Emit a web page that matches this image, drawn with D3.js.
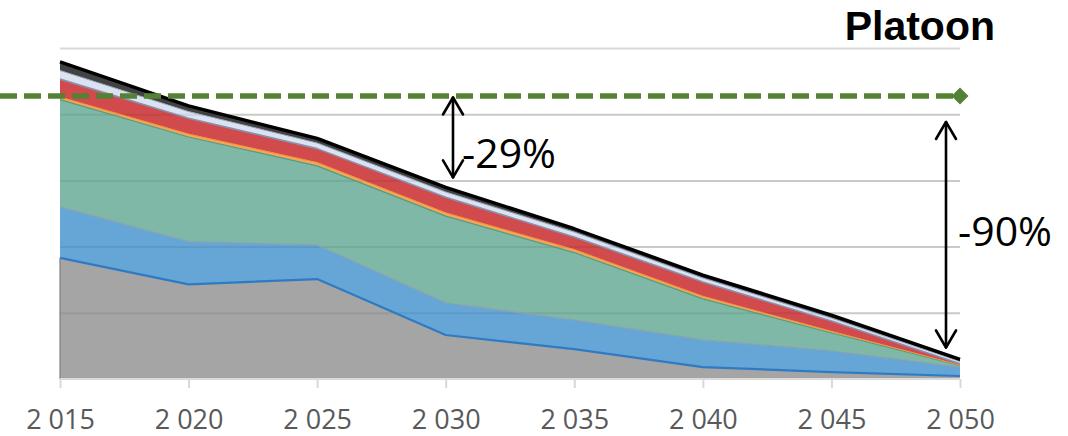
<!DOCTYPE html>
<html>
<head>
<meta charset="utf-8">
<script src="https://cdn.jsdelivr.net/npm/d3@7/dist/d3.min.js"></script>
<style>
html,body{margin:0;padding:0;background:#fff;}
svg{display:block;}
</style>
</head>
<body>
<svg id="chart" width="1068" height="436"></svg>
<script>
// ---- data ----
const years = [2015, 2020, 2025, 2030, 2035, 2040, 2045, 2050];
const xTickLabels = ["2 015", "2 020", "2 025", "2 030", "2 035", "2 040", "2 045", "2 050"];
const seriesGray      = [18.3, 14.3, 15.1, 6.65, 4.5, 1.8, 1.05, 0.45];
const seriesBlue      = [7.7, 6.45, 5.15, 4.85, 4.4, 4.1, 3.2, 1.35];
const seriesGreen     = [16.2, 15.8, 11.95, 13.1, 10.2, 6.2, 2.7, 0.25];
const seriesOrange    = [0.4, 0.45, 0.5, 0.5, 0.45, 0.4, 0.25, 0.05];
const seriesRed       = [2.7, 2.4, 2.1, 2.35, 1.9, 2.15, 1.55, 0.2];
const seriesLightBlue = [1.3, 1.0, 0.85, 0.8, 0.75, 0.6, 0.45, 0.35];
const seriesDark      = [1.3, 0.85, 0.7, 0.7, 0.5, 0.45, 0.45, 0.3];
const yGridTicks = [10, 20, 30, 40, 50];
const referenceLevel = 42.75;
const title = "Platoon";
const labelA = "-29%";
const labelB = "-90%";

// ---- setup ----
const svg = d3.select("#chart");
const x = d3.scaleLinear().domain([2015, 2050]).range([60, 960]);
const y = d3.scaleLinear().domain([0, 50]).range([379, 48]);

const keys = ["gray", "blue", "green", "orange", "red", "lightblue", "dark"];
const sources = [seriesGray, seriesBlue, seriesGreen, seriesOrange, seriesRed, seriesLightBlue, seriesDark];
const fills = ["#a5a5a5", "#66a6d7", "#7fb8a6", "#f8a55a", "#d24b4c", "#dbe3f1", "#424242"];
const topLines = [
  {c: "#2e7bc4", w: 2.2},
  {c: "#85a3b3", w: 1.2},
  {c: "#4f9d7e", w: 1.2},
  {c: "#f0923a", w: 1},
  {c: "#8a8fae", w: 1.6},
  {c: "#9aa6c0", w: 1},
  {c: "#000000", w: 3.4}
];
const table = years.map((yr, i) => {
  const o = {year: yr};
  keys.forEach((k, j) => o[k] = sources[j][i]);
  return o;
});
const stacked = d3.stack().keys(keys)(table);

// gridlines below
const gridG = svg.append("g").attr("transform", "translate(60,0)")
  .call(d3.axisLeft(y).tickValues(yGridTicks).tickSize(-900).tickFormat(""));
gridG.select(".domain").remove();
gridG.selectAll("line").attr("stroke", "#d9d9d9").attr("stroke-width", 2);

// areas
const area = d3.area().x(d => x(d.data.year)).y0(d => y(d[0])).y1(d => y(d[1]));
svg.append("g").selectAll("path").data(stacked).join("path")
  .attr("d", area)
  .attr("fill", (d, i) => fills[i]);

// gridlines over areas (subtle)
const gridOver = svg.append("g").attr("transform", "translate(60,0)")
  .call(d3.axisLeft(y).tickValues(yGridTicks.filter(v => v < 50)).tickSize(-900).tickFormat(""));
gridOver.select(".domain").remove();
gridOver.selectAll("line").attr("stroke", "#000").attr("stroke-opacity", 0.07).attr("stroke-width", 2);

// boundary lines
const line = d3.line().x(d => x(d.data.year)).y(d => y(d[1]));
svg.append("g").selectAll("path").data(stacked).join("path")
  .attr("d", line)
  .attr("fill", "none")
  .attr("stroke", (d, i) => topLines[i].c)
  .attr("stroke-width", (d, i) => topLines[i].w)
  .attr("stroke-linejoin", "round");

// left edge
svg.append("line").attr("x1", x(2015)).attr("x2", x(2015))
  .attr("y1", y(0)).attr("y2", y(stacked[0][0][1]))
  .attr("stroke", "#7f7f7f").attr("stroke-width", 1.2);

// x axis
const xAxis = svg.append("g").attr("transform", `translate(0,${y(0)})`)
  .call(d3.axisBottom(x).tickValues(years).tickSize(9)
    .tickFormat((d, i) => xTickLabels[i]));
xAxis.select(".domain").attr("stroke", "#d9d9d9").attr("stroke-width", 2)
  .attr("d", `M60,0H960`);
xAxis.selectAll(".tick line").attr("stroke", "#d9d9d9").attr("stroke-width", 2);
xAxis.selectAll(".tick text")
  .attr("y", 50).attr("dy", 0)
  .attr("fill", "#595959")
  .style("font-family", "'Open Sans', sans-serif")
  .style("font-size", "27px");

// reference dashed line
const yRef = y(referenceLevel);
svg.append("line")
  .attr("x1", 0).attr("x2", x(2050))
  .attr("y1", yRef).attr("y2", yRef)
  .attr("stroke", "#548235").attr("stroke-width", 5.5)
  .attr("stroke-dasharray", "17,7");
svg.append("path")
  .attr("d", "M0,-8.5L8.5,0L0,8.5L-8.5,0Z")
  .attr("transform", `translate(${x(2050)},${yRef})`)
  .attr("fill", "#548235");

// arrows
function dblArrow(ax, yTop, yBot) {
  const g = svg.append("g").attr("stroke", "#000").attr("stroke-width", 2.6)
    .attr("fill", "none").attr("stroke-linecap", "round").attr("stroke-linejoin", "round");
  g.append("line").attr("x1", ax).attr("x2", ax).attr("y1", yTop).attr("y2", yBot);
  g.append("path").attr("d", `M${ax - 10},${yTop + 17}L${ax},${yTop}L${ax + 10},${yTop + 17}`);
  g.append("path").attr("d", `M${ax - 10},${yBot - 17}L${ax},${yBot}L${ax + 10},${yBot - 17}`);
}
const total2030 = stacked[stacked.length - 1][3][1];
const total2050 = stacked[stacked.length - 1][7][1];
dblArrow(453, yRef + 1.5, y(total2030) - 10);
dblArrow(946, yRef + 26, y(total2050) - 12);

svg.append("text").attr("x", 462).attr("y", 168)
  .style("font-family", "'Open Sans', sans-serif").style("font-size", "41px")
  .attr("fill", "#000").text(labelA);
svg.append("text").attr("x", 958).attr("y", 246)
  .style("font-family", "'Open Sans', sans-serif").style("font-size", "41px")
  .attr("fill", "#000").text(labelB);

// title
svg.append("text").attr("x", 995).attr("y", 39.5).attr("text-anchor", "end")
  .style("font-family", "'Liberation Sans', Arial, sans-serif").style("font-size", "41px")
  .style("font-weight", "bold").attr("fill", "#000").text(title);
</script>
</body>
</html>
